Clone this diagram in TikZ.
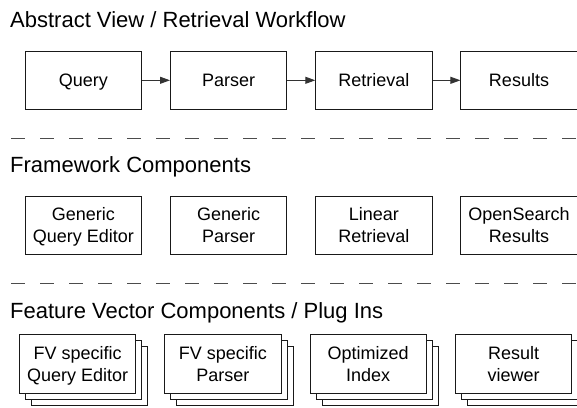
\documentclass[tikz,border=0pt]{standalone}
\usepackage{fontspec}
\setmainfont{Liberation Sans}
\usetikzlibrary{arrows.meta}
\newcommand\bs{\rule[-3.2pt]{0pt}{19.2pt}}
\newcommand\oneline[1]{\bs#1}
\newcommand\twolines[2]{\bs#1\\\bs#2}
\begin{document}
\begin{tikzpicture}[x=1pt,y=-1pt,
  box/.style={draw=black!90,line width=0.9pt,fill=white,rectangle,anchor=north west,
    minimum width=116.3pt,minimum height=58.3pt,inner sep=0pt,align=center,
    font=\fontsize{18}{22}\selectfont},
  stackbox/.style={box,minimum height=59pt},
  backbox/.style={draw=black!90,line width=0.9pt,fill=white,rectangle,anchor=north west,
    minimum width=116.3pt,minimum height=59pt,inner sep=0pt},
  title/.style={anchor=base west,inner sep=0pt,font=\fontsize{22}{26}\selectfont},
  sepline/.style={draw=black!70,line width=1pt,dash pattern=on 14pt off 15pt},
  flow/.style={draw=black!80,line width=0.9pt,-{Triangle[length=10pt,width=7pt]}}]
\useasboundingbox (0,0) rectangle (577,407);

% Row 1
\node[title] (t1) at (10,27) {Abstract View / Retrieval Workflow};
\node[box] (q) at (24.7,50.7) {\oneline{Query}};
\node[box] (p) at (170,50.7) {\oneline{Parser}};
\node[box] (r) at (315.3,50.7) {\oneline{Retrieval}};
\node[box] (res) at (460.4,50.7) {\oneline{Results}};
\draw[flow] (q) -- (p);
\draw[flow] (p) -- (r);
\draw[flow] (r) -- (res);

\coordinate (d1a) at (11,138.5);
\coordinate (d1b) at (577,138.5);
\draw[sepline] (d1a) -- (d1b);

% Row 2
\node[title] (t2) at (10,172.5) {Framework Components};
\node[box] (gq) at (24.7,195.7) {\twolines{Generic}{Query Editor}};
\node[box] (gp) at (170,195.7) {\twolines{Generic}{Parser}};
\node[box] (lr) at (315.3,195.7) {\twolines{Linear}{Retrieval}};
\node[box] (os) at (460.4,195.7) {\twolines{OpenSearch}{Results}};

\coordinate (d2a) at (11,283.5);
\coordinate (d2b) at (577,283.5);
\draw[sepline] (d2a) -- (d2b);

% Row 3
\node[title] (t3) at (10,318) {Feature Vector Components / Plug Ins};
\foreach \i/\x/\ta/\tb in {1/19/FV specific/Query Editor,2/164.3/FV specific/Parser,3/309.6/Optimized/Index,4/455/Result/viewer}{
  \node[backbox] (b\i c) at (\x+12,346) {};
  \node[backbox] (b\i b) at (\x+6,340) {};
  \node[stackbox] (b\i a) at (\x,334) {\twolines{\ta}{\tb}};
}
\end{tikzpicture}
\end{document}
